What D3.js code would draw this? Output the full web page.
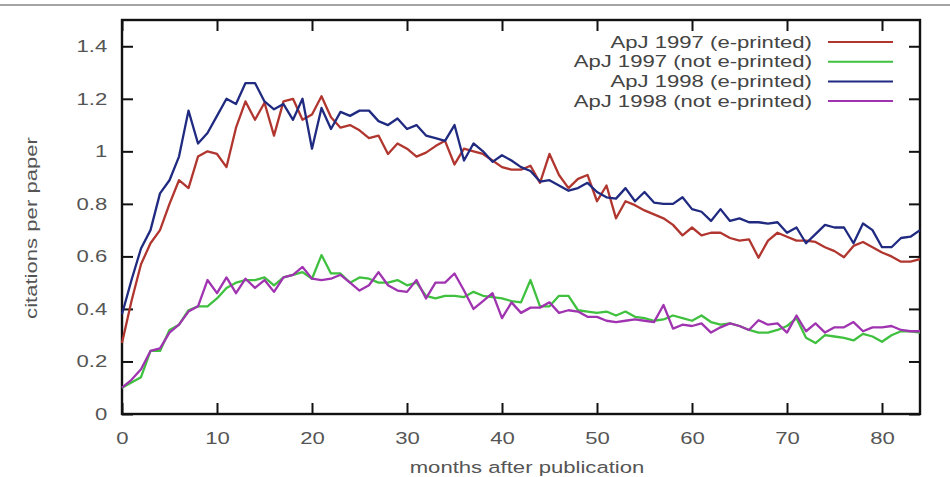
<!DOCTYPE html>
<html>
<head>
<meta charset="utf-8">
<script src="https://cdn.jsdelivr.net/npm/d3@7"></script>
<style>
  body { margin: 0; background: white; }
  svg { display: block; }
</style>
</head>
<body>
<div id="chart"></div>
<script>
// values, one value per month (0..84)
var months = d3.range(0, 85)

var apj97e = [0.27,0.43,0.57,0.65,0.70,0.80,0.89,0.86,0.98,1.00,
  0.99,0.94,1.09,1.19,1.12,1.185,1.06,1.19,1.20,1.12,
  1.14,1.21,1.13,1.09,1.10,1.08,1.05,1.06,0.99,1.03,
  1.01,0.98,0.995,1.02,1.04,0.95,1.01,1.00,0.99,0.965,
  0.94,0.93,0.93,0.945,0.88,0.99,0.91,0.86,0.895,0.91,
  0.81,0.87,0.745,0.81,0.795,0.775,0.76,0.745,0.72,0.68,
  0.71,0.68,0.69,0.69,0.67,0.66,0.665,0.595,0.66,0.69,
  0.675,0.66,0.66,0.655,0.635,0.62,0.597,0.64,0.655,0.635,
  0.615,0.60,0.58,0.58,0.59]

var apj97n = [0.10,0.12,0.14,0.24,0.24,0.32,0.34,0.395,0.41,0.41,
  0.44,0.48,0.50,0.51,0.51,0.52,0.49,0.52,0.53,0.54,
  0.515,0.605,0.535,0.535,0.50,0.52,0.515,0.50,0.50,0.51,
  0.49,0.50,0.45,0.44,0.45,0.45,0.445,0.465,0.45,0.445,
  0.44,0.43,0.425,0.51,0.41,0.41,0.45,0.45,0.395,0.39,
  0.385,0.39,0.375,0.39,0.37,0.365,0.355,0.36,0.375,0.365,
  0.355,0.375,0.35,0.34,0.345,0.335,0.32,0.31,0.31,0.32,
  0.335,0.365,0.29,0.27,0.30,0.295,0.29,0.28,0.305,0.295,
  0.275,0.30,0.315,0.315,0.31]

var apj98e = [0.38,0.51,0.63,0.70,0.84,0.89,0.98,1.155,1.03,1.07,
  1.135,1.20,1.18,1.26,1.26,1.19,1.16,1.18,1.12,1.20,
  1.01,1.165,1.085,1.15,1.135,1.155,1.155,1.115,1.10,1.125,
  1.085,1.10,1.06,1.05,1.04,1.10,0.965,1.03,1.00,0.96,
  0.985,0.965,0.94,0.925,0.885,0.89,0.87,0.85,0.86,0.88,
  0.845,0.825,0.82,0.86,0.81,0.845,0.805,0.80,0.80,0.825,
  0.78,0.77,0.735,0.78,0.735,0.745,0.73,0.73,0.725,0.73,
  0.69,0.71,0.65,0.685,0.72,0.71,0.71,0.65,0.725,0.70,
  0.635,0.635,0.67,0.675,0.70]

var apj98n = [0.10,0.13,0.17,0.24,0.25,0.31,0.34,0.39,0.41,0.51,
  0.46,0.52,0.46,0.515,0.48,0.51,0.465,0.52,0.53,0.56,
  0.515,0.51,0.515,0.53,0.50,0.47,0.49,0.54,0.49,0.47,
  0.465,0.51,0.44,0.50,0.50,0.535,0.47,0.40,0.43,0.46,
  0.365,0.425,0.385,0.405,0.405,0.425,0.385,0.395,0.39,0.37,
  0.37,0.355,0.35,0.355,0.36,0.355,0.35,0.415,0.325,0.34,
  0.335,0.345,0.31,0.33,0.345,0.335,0.32,0.357,0.34,0.345,
  0.31,0.375,0.315,0.345,0.31,0.33,0.33,0.35,0.315,0.33,
  0.33,0.335,0.32,0.315,0.315]

var seriesNames = ["ApJ 1997 (e-printed)", "ApJ 1997 (not e-printed)", "ApJ 1998 (e-printed)", "ApJ 1998 (not e-printed)"]
var seriesValues = [apj97e, apj97n, apj98e, apj98n]
var seriesColors = ["#b0362f", "#3fc03f", "#1f2a80", "#a034b0"]

var xTicks = [0,10,20,30,40,50,60,70,80]
var yTicks = [0,0.2,0.4,0.6,0.8,1,1.2,1.4]

var w = 950
var h = 477
// plot box edges (not called top/left, those clash with window.top)
var boxL = 122, boxR = 920, boxT = 20, boxB = 414
var stretch = 1.34   // the font in the picture is a wide one
var font = "'Liberation Sans', Arial, sans-serif"

var svg = d3.select("#chart").append("svg").attr("width", w).attr("height", h)

svg.append("rect").attr("width", w).attr("height", h).attr("fill", "white")

// grey rule left over from the page above the chart
svg.append("line")
  .attr("x1", 0).attr("x2", w).attr("y1", 5).attr("y2", 5)
  .attr("stroke", "#a5a5a5").attr("stroke-width", 2)

var xScale = d3.scaleLinear().domain([0, 84]).range([boxL, boxR])
var yScale = d3.scaleLinear().domain([0, 1.5]).range([boxB, boxT])

// axes, ticks point inwards and are mirrored on top and right
var xAxis = svg.append("g").attr("transform", "translate(0," + boxB + ")")
  .call(d3.axisBottom(xScale).tickValues(xTicks).tickSize(-11).tickPadding(18).tickSizeOuter(0))
var yAxis = svg.append("g").attr("transform", "translate(" + boxL + ",0)")
  .call(d3.axisLeft(yScale).tickValues(yTicks).tickFormat(d3.format("~g")).tickSize(-11).tickPadding(11).tickSizeOuter(0))
svg.append("g").attr("transform", "translate(0," + boxT + ")")
  .call(d3.axisTop(xScale).tickValues(xTicks).tickFormat("").tickSize(-11).tickSizeOuter(0))
svg.append("g").attr("transform", "translate(" + boxR + ",0)")
  .call(d3.axisRight(yScale).tickValues(yTicks).tickFormat("").tickSize(-11).tickSizeOuter(0))

svg.selectAll(".domain").remove()
svg.selectAll(".tick line").attr("stroke", "#111").attr("stroke-width", 2)
svg.selectAll(".tick text")
  .attr("font-family", font)
  .attr("font-size", "16.5px")
  .attr("fill", "#555")
  .attr("transform", "scale(" + stretch + ",1)")
// the scale moves the x offset of the left labels, so put it back
yAxis.selectAll(".tick text").attr("x", -11)

svg.append("rect")
  .attr("x", boxL).attr("y", boxT)
  .attr("width", boxR - boxL).attr("height", boxB - boxT)
  .attr("fill", "none").attr("stroke", "#111").attr("stroke-width", 2.4)

// lines
var line = d3.line()
  .x(function(d, i) { return xScale(months[i]) })
  .y(function(d) { return yScale(d) })

svg.selectAll("path.series")
  .data(seriesValues)
  .enter()
  .append("path")
  .attr("class", "series")
  .attr("d", line)
  .attr("fill", "none")
  .attr("stroke", function(d, i) { return seriesColors[i] })
  .attr("stroke-width", 2.3)
  .attr("stroke-linejoin", "round")

// axis titles
svg.append("text")
  .text("citations per paper")
  .attr("transform", "translate(31,228) rotate(-90) scale(" + stretch + ",1)")
  .attr("text-anchor", "middle")
  .attr("dy", "0.35em")
  .attr("font-family", font)
  .attr("font-size", "16.5px")
  .attr("fill", "#555")

svg.append("text")
  .text("months after publication")
  .attr("transform", "translate(527,467) scale(" + stretch + ",1)")
  .attr("text-anchor", "middle")
  .attr("dy", "0.35em")
  .attr("font-family", font)
  .attr("font-size", "16.5px")
  .attr("fill", "#555")

// legend, top right inside the box
var legend = svg.selectAll("g.legend")
  .data(seriesNames)
  .enter()
  .append("g")
  .attr("class", "legend")
  .attr("transform", function(d, i) { return "translate(0," + (42 + i * 19.7) + ")" })

legend.append("text")
  .text(function(d) { return d })
  .attr("transform", "translate(812,0) scale(" + stretch + ",1)")
  .attr("text-anchor", "end")
  .attr("dy", "0.35em")
  .attr("font-family", font)
  .attr("font-size", "16.5px")
  .attr("fill", "#444")

legend.append("line")
  .attr("x1", 828).attr("x2", 893)
  .attr("stroke", function(d, i) { return seriesColors[i] })
  .attr("stroke-width", 2)
</script>
</body>
</html>
